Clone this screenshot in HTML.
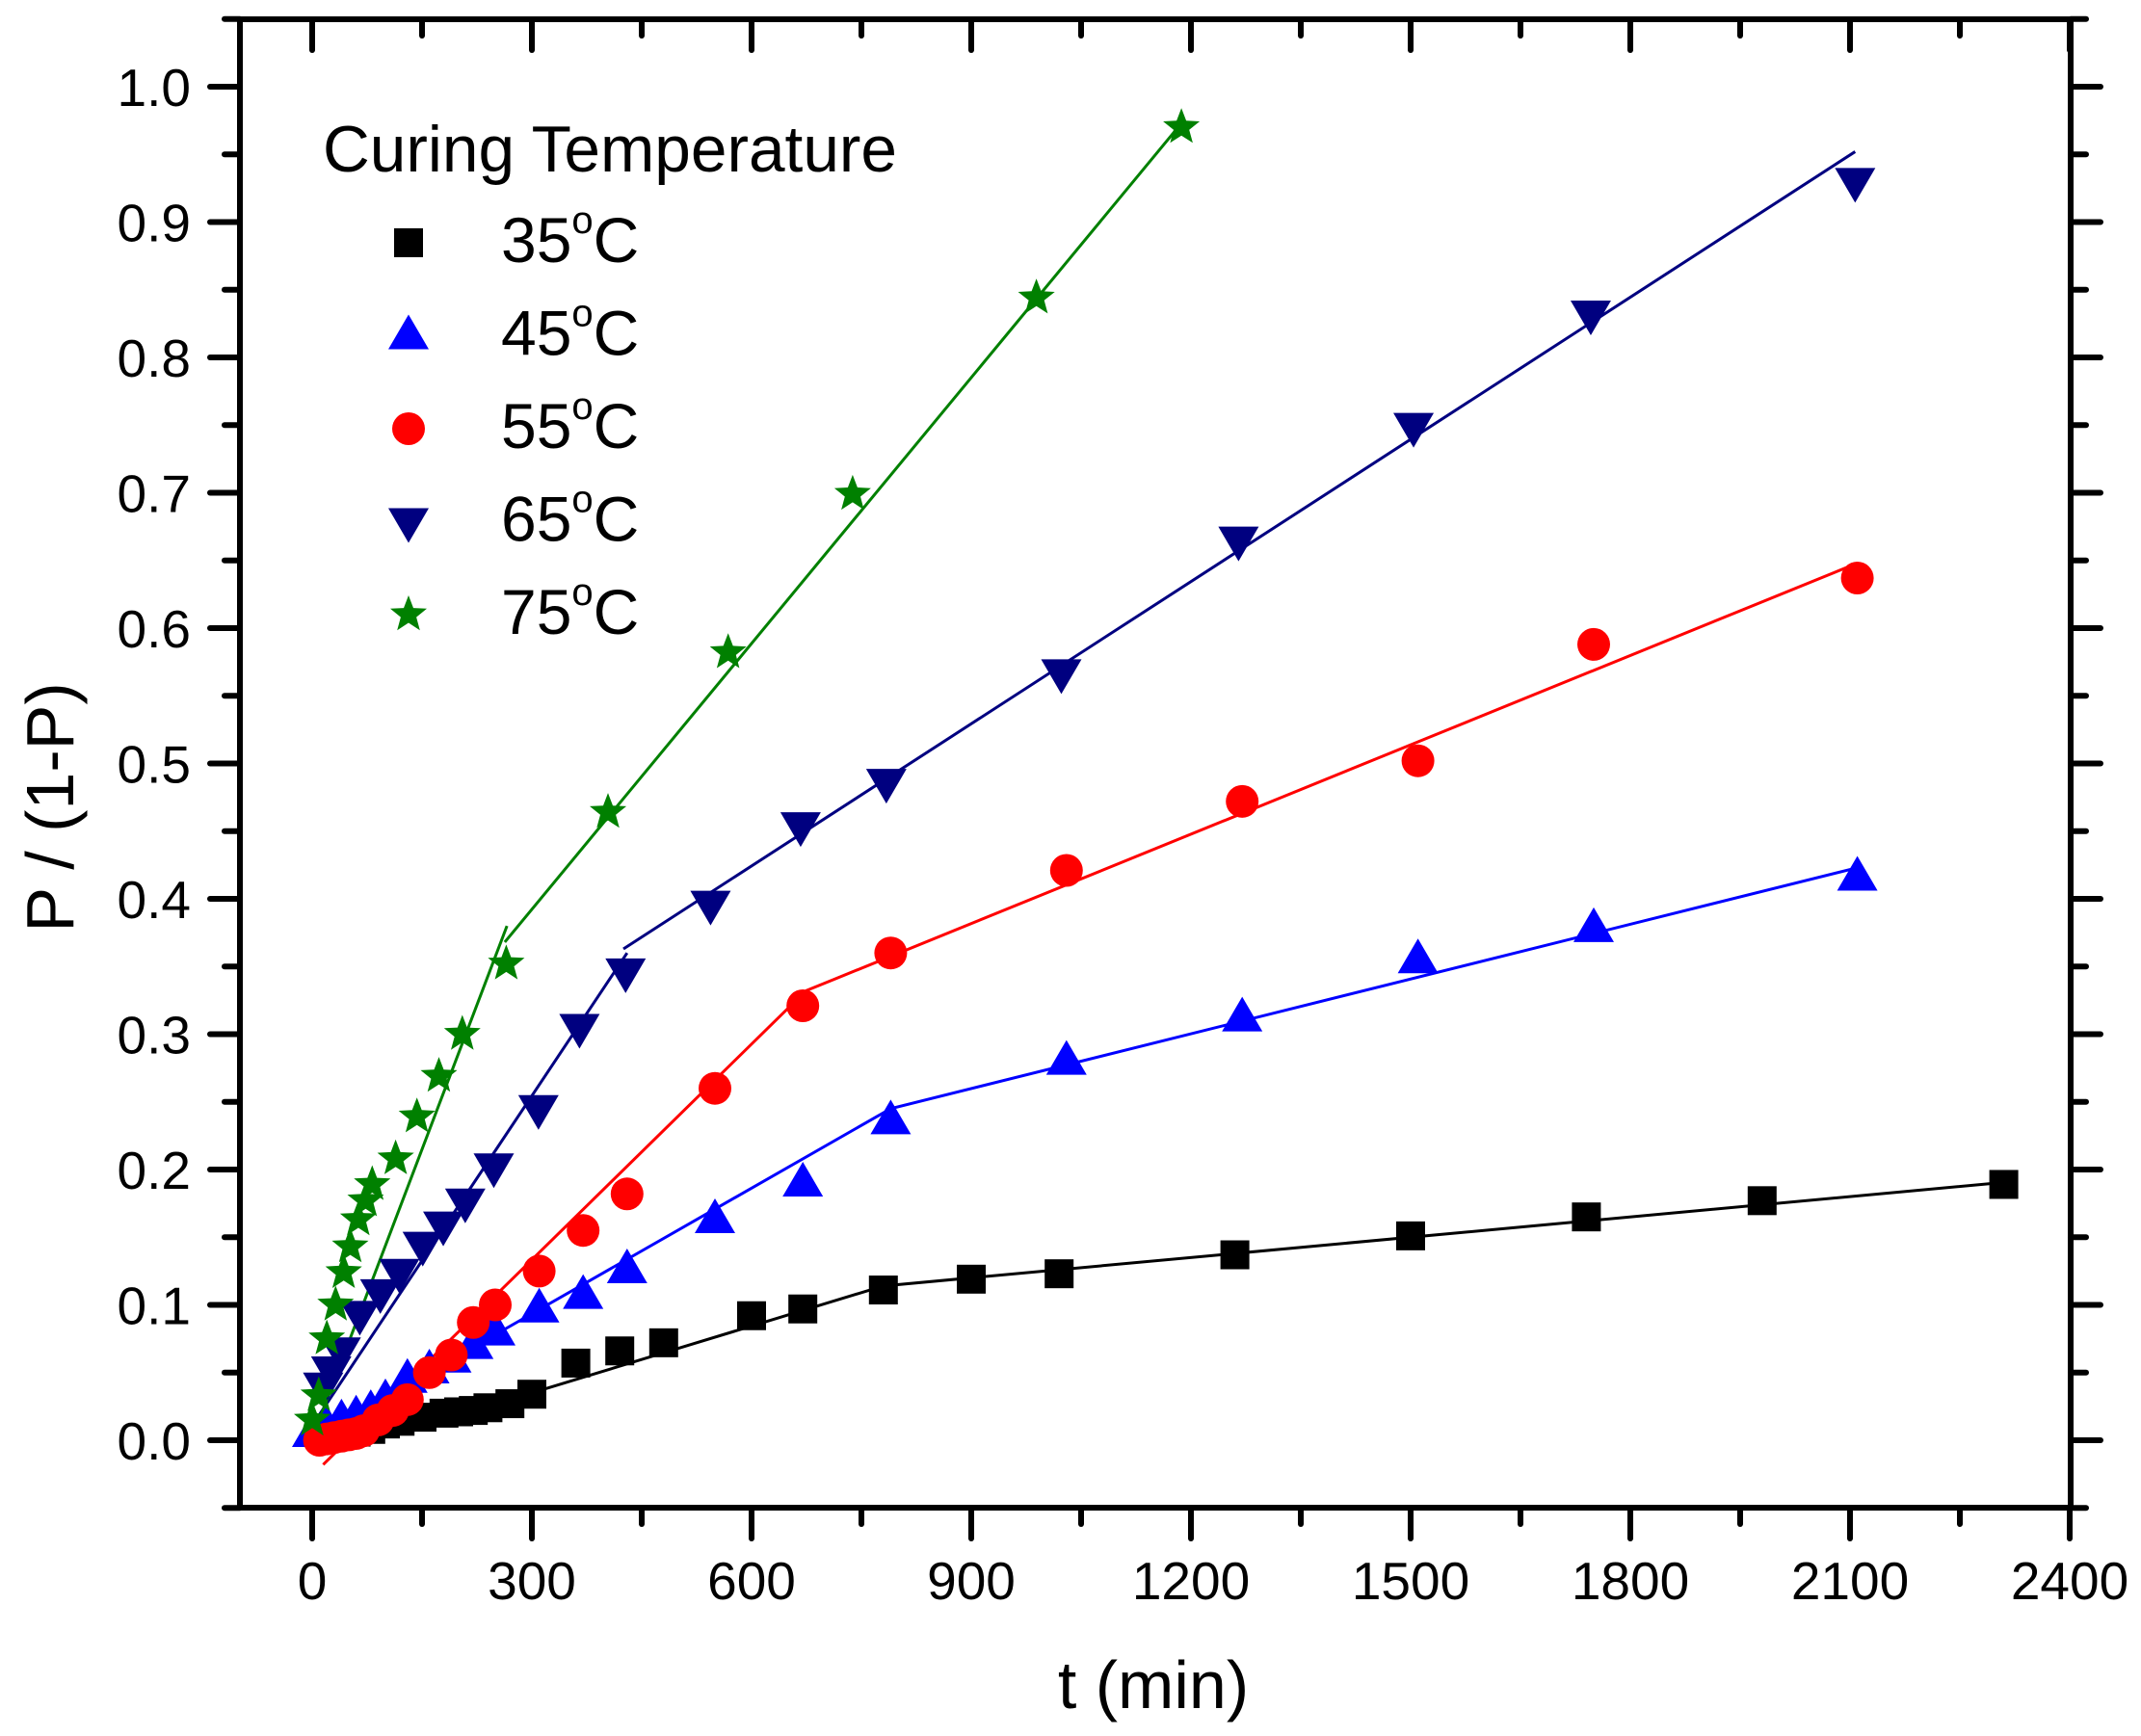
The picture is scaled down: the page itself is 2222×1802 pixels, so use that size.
<!DOCTYPE html>
<html><head><meta charset="utf-8"><style>
html,body{margin:0;padding:0;background:#fff;}
svg{display:block;font-family:"Liberation Sans",Arial,sans-serif;}
</style></head><body>
<svg id="chart" width="2222" height="1802" viewBox="0 0 2222 1802" xmlns="http://www.w3.org/2000/svg">
<rect x="0" y="0" width="2222" height="1802" fill="#fff"/>
<g id="fits"></g>
<g id="marks"></g>
<g id="axes"></g>
<text x="1197" y="1773" font-size="70" text-anchor="middle">t (min)</text>
<text transform="translate(76,838) rotate(-90)" font-size="70" text-anchor="middle">P / (1-P)</text>
<g id="legend">
<text x="335" y="178" font-size="68" textLength="596" lengthAdjust="spacingAndGlyphs">Curing Temperature</text>
</g>
</svg>
<script>
const xTicks = [0,300,600,900,1200,1500,1800,2100,2400];
const yTicks = [0.0,0.1,0.2,0.3,0.4,0.5,0.6,0.7,0.8,0.9,1.0];
const yTickLabels = ["0.0","0.1","0.2","0.3","0.4","0.5","0.6","0.7","0.8","0.9","1.0"];
const seriesNames = ["35","45","55","65","75"];

const t35 = [20,40,60,80,100,120,150,180,200,220,240,270,300,360,420,480,600,670,780,900,1020,1260,1500,1740,1980,2310];
const v35 = [0.002,0.004,0.006,0.008,0.012,0.014,0.017,0.02,0.021,0.022,0.024,0.027,0.034,0.057,0.066,0.072,0.092,0.097,0.111,0.119,0.123,0.137,0.151,0.165,0.177,0.189];
const fitT35 = [40,300,780,2320];
const fitV35 = [0.0,0.035,0.114,0.191];

const t45 = [0,20,40,60,80,100,130,160,190,220,250,310,370,430,550,670,790,1030,1270,1510,1750,2110];
const v45 = [0.005,0.01,0.015,0.018,0.022,0.03,0.045,0.052,0.06,0.07,0.08,0.097,0.107,0.126,0.163,0.19,0.236,0.28,0.312,0.355,0.378,0.416];
const fitT45 = [30,790,2110];
const fitV45 = [0.01,0.245,0.423];

const t55 = [10,20,30,40,50,60,70,90,110,130,160,190,220,250,310,370,430,550,670,790,1030,1270,1510,1750,2110];
const v55 = [0,0.001,0.002,0.003,0.004,0.005,0.007,0.015,0.022,0.03,0.05,0.063,0.087,0.1,0.125,0.155,0.182,0.26,0.321,0.36,0.421,0.472,0.502,0.588,0.637];
const fitT55a = [15,674];
const fitV55a = [-0.018,0.332];
const fitT55b = [674,2110];
const fitV55b = [0.332,0.648];

const t65 = [15,26,39,65,93,119,151,179,209,248,309,365,428,544,667,784,1023,1265,1504,1746,2107];
const v65 = [0.04,0.052,0.066,0.093,0.109,0.124,0.144,0.159,0.176,0.202,0.245,0.305,0.346,0.396,0.454,0.486,0.567,0.665,0.749,0.832,0.93];
const fitT65a = [5,430];
const fitV65a = [0.015,0.36];
const fitT65b = [425,2107];
const fitV65b = [0.363,0.952];

const t75 = [0,9,20,32,43,52,63,73,82,114,143,173,205,265,404,568,738,989,1187];
const v75 = [0.015,0.033,0.075,0.1,0.124,0.143,0.163,0.177,0.189,0.208,0.239,0.269,0.3,0.352,0.464,0.582,0.699,0.844,0.97];
const fitT75a = [6,266];
const fitV75a = [0.01,0.38];
const fitT75b = [263,1187];
const fitV75b = [0.368,0.973];

const NS = "http://www.w3.org/2000/svg";
const X0 = 324, XS = 0.76, Y0 = 1495, YS = 1405;
const L = 249, R = 2149, T = 20, B = 1565;
function xs(t){ return X0 + t*XS; }
function ys(v){ return Y0 - v*YS; }
function mk(tag, attrs, parent){
  const e = document.createElementNS(NS, tag);
  for (const k in attrs) e.setAttribute(k, attrs[k]);
  parent.appendChild(e);
  return e;
}
const axes = document.getElementById('axes');
const fits = document.getElementById('fits');
const marks = document.getElementById('marks');
const legend = document.getElementById('legend');

// frame
const frame = mk('rect', {x:L, y:T, width:R-L, height:B-T, fill:'none', stroke:'#000', 'stroke-width':6}, axes);



// x ticks
for (let t = 0; t <= 2400; t += 150) {
  const major = t % 300 === 0;
  const x = xs(t);
  const len = major ? 32 : 17;
  const tb = mk('line', {x1:x, y1:B, x2:x, y2:B+len, stroke:'#000', 'stroke-width':6, 'stroke-linecap':'round'}, axes);
  
  
  const tt = mk('line', {x1:x, y1:T, x2:x, y2:T+len, stroke:'#000', 'stroke-width':6, 'stroke-linecap':'round'}, axes);
  
  
}
for (let i = 0; i < xTicks.length; i++) {
  const lb = mk('text', {x:xs(xTicks[i]), y:1660, 'font-size':55, 'text-anchor':'middle'}, axes);
  lb.textContent = String(xTicks[i]);
  
  
}
// y ticks
for (let k = -1; k <= 21; k++) {
  const v = k*0.05;
  const major = k % 2 === 0;
  const y = ys(v);
  if (y < T-1 || y > B+1) continue;
  const len = major ? 31 : 16;
  const tl = mk('line', {x1:L-len, y1:y, x2:L, y2:y, stroke:'#000', 'stroke-width':6, 'stroke-linecap':'round'}, axes);
  
  
  const tr = mk('line', {x1:R, y1:y, x2:R+len, y2:y, stroke:'#000', 'stroke-width':6, 'stroke-linecap':'round'}, axes);
  
  
}
for (let i = 0; i < yTicks.length; i++) {
  const lb = mk('text', {x:198, y:ys(yTicks[i])+20, 'font-size':55, 'text-anchor':'end'}, axes);
  lb.textContent = yTickLabels[i];
  
  
}

function fitLine(tArr, vArr, color){
  const pts = tArr.map((t,i)=> xs(t)+','+ys(vArr[i])).join(' ');
  const p = mk('polyline', {points:pts, fill:'none', stroke:color, 'stroke-width':3}, fits);
  
  
}
function marker(shape, cx, cy, color, parent){
  let e;
  if (shape === 'square') {
    e = mk('rect', {x:cx-15, y:cy-15, width:30, height:30, fill:color}, parent);
  } else if (shape === 'up') {
    e = mk('polygon', {points:`${cx},${cy-22} ${cx+21},${cy+14} ${cx-21},${cy+14}`, fill:color}, parent);
  } else if (shape === 'down') {
    e = mk('polygon', {points:`${cx},${cy+22} ${cx+21},${cy-14} ${cx-21},${cy-14}`, fill:color}, parent);
  } else if (shape === 'circle') {
    e = mk('ellipse', {cx:cx, cy:cy, rx:17, ry:17, fill:color}, parent);
  } else {
    let pts = [];
    for (let i = 0; i < 10; i++) {
      const r = i%2===0 ? 20 : 8.5;
      const a = -Math.PI/2 + i*Math.PI/5;
      pts.push((cx + r*Math.cos(a)).toFixed(1)+','+(cy + r*Math.sin(a)).toFixed(1));
    }
    e = mk('polygon', {points:pts.join(' '), fill:color}, parent);
  }
  return e;
}
function points(tArr, vArr, shape, color, name){
  for (let i = 0; i < tArr.length; i++) {
    const e = marker(shape, xs(tArr[i]), ys(vArr[i]), color, marks);
    
    
  }
}

fitLine(fitT35, fitV35, '#000');
fitLine(fitT45, fitV45, '#0000ff');
fitLine(fitT55a, fitV55a, '#ff0000');
fitLine(fitT55b, fitV55b, '#ff0000');
fitLine(fitT65a, fitV65a, '#000080');
fitLine(fitT65b, fitV65b, '#000080');
fitLine(fitT75a, fitV75a, '#008000');
fitLine(fitT75b, fitV75b, '#008000');

points(t35, v35, 'square', '#000', 'point-35c');
points(t45, v45, 'up', '#0000ff', 'point-45c');
points(t55, v55, 'circle', '#ff0000', 'point-55c');
points(t65, v65, 'down', '#000080', 'point-65c');
points(t75, v75, 'star', '#008000', 'point-75c');

// legend entries
const legShapes = ['square','up','circle','down','star'];
const legColors = ['#000','#0000ff','#ff0000','#000080','#008000'];
for (let i = 0; i < seriesNames.length; i++) {
  const base = 272 + i*96.5;
  const g = mk('g', {}, legend);
  
  
  const m = marker(legShapes[i], 424, base-20, legColors[i], g);
  
  
  const tx = mk('text', {x:520, y:base, 'font-size':66}, g);
  
  
  const s1 = mk('tspan', {}, tx); s1.textContent = seriesNames[i];
  const s2 = mk('tspan', {dy:-30, 'font-size':40}, tx); s2.textContent = 'o';
  const s3 = mk('tspan', {dy:30}, tx); s3.textContent = 'C';
}
</script>
</body></html>
